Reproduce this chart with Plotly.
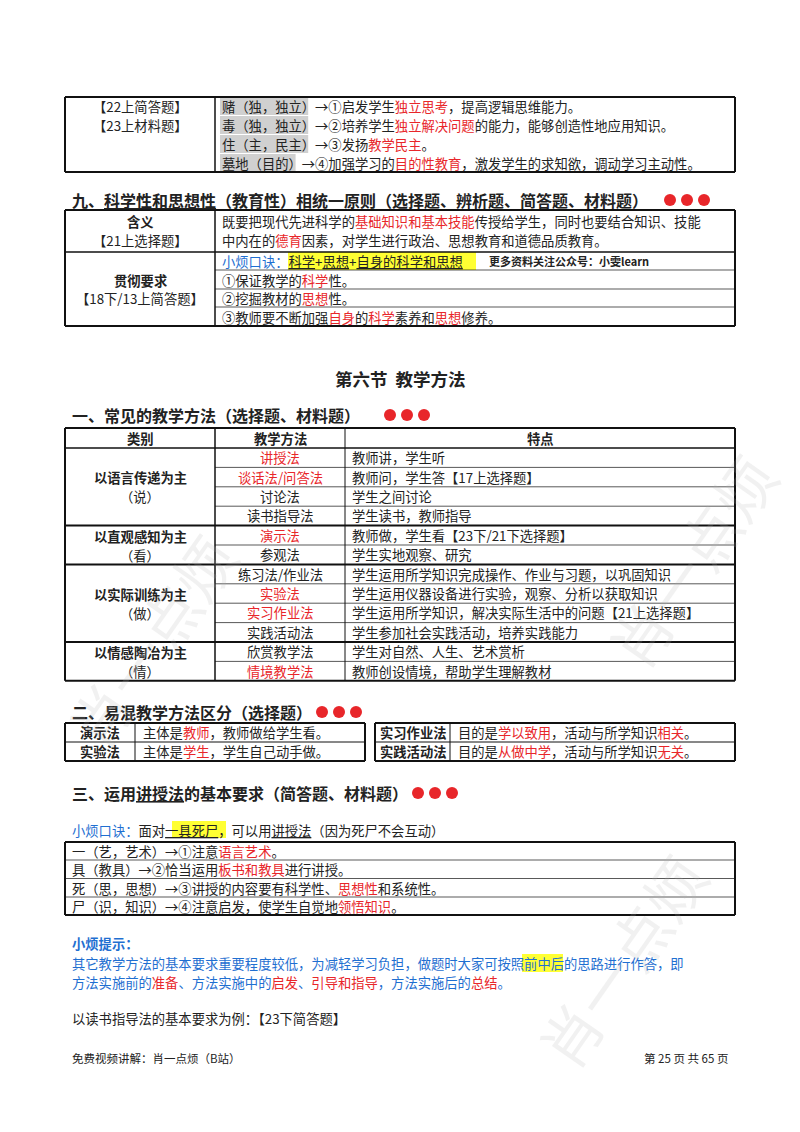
import plotly.graph_objects as go

RED = "#e8262a"
BLUE = "#1f6fd1"
def r(s): return '<span style="color:%s">%s</span>' % (RED, s)

top_left = ["【22上简答题】", "【23上材料题】"]
top_keys = ["赌（独，独立）", "毒（独，独立）", "住（主，民主）", "墓地（目的）"]
top_rest = ["→①启发学生" + r("独立思考") + "，提高逻辑思维能力。",
            "→②培养学生" + r("独立解决问题") + "的能力，能够创造性地应用知识。",
            "→③发扬" + r("教学民主") + "。",
            "→④加强学习的" + r("目的性教育") + "，激发学生的求知欲，调动学习主动性。"]
meaning = ["既要把现代先进科学的" + r("基础知识和基本技能") + "传授给学生，同时也要结合知识、技能",
           "中内在的" + r("德育") + "因素，对学生进行政治、思想教育和道德品质教育。"]
req = ["①保证教学的" + r("科学") + "性。", "②挖掘教材的" + r("思想") + "性。",
       "③教师要不断加强" + r("自身") + "的" + r("科学") + "素养和" + r("思想") + "修养。"]

groups = [("以语言传递为主", "（说）", 4), ("以直观感知为主", "（看）", 2),
          ("以实际训练为主", "（做）", 4), ("以情感陶冶为主", "（情）", 2)]
methods = [r("讲授法"), r("谈话法/问答法"), "讨论法", "读书指导法", r("演示法"), "参观法",
           "练习法/作业法", r("实验法"), r("实习作业法"), "实践活动法", "欣赏教学法", r("情境教学法")]
features = ["教师讲，学生听", "教师问，学生答【17上选择题】", "学生之间讨论", "学生读书，教师指导",
            "教师做，学生看【23下/21下选择题】", "学生实地观察、研究",
            "学生运用所学知识完成操作、作业与习题，以巩固知识", "学生运用仪器设备进行实验，观察、分析以获取知识",
            "学生运用所学知识，解决实际生活中的问题【21上选择题】", "学生参加社会实践活动，培养实践能力",
            "学生对自然、人生、艺术赏析", "教师创设情境，帮助学生理解教材"]
cmp_l = [("演示法", "主体是" + r("教师") + "，教师做给学生看。"), ("实验法", "主体是" + r("学生") + "，学生自己动手做。")]
cmp_r = [("实习作业法", "目的是" + r("学以致用") + "，活动与所学知识" + r("相关") + "。"),
         ("实践活动法", "目的是" + r("从做中学") + "，活动与所学知识" + r("无关") + "。")]
lect = ["一（艺，艺术）→①注意" + r("语言艺术") + "。", "具（教具）→②恰当运用" + r("板书和教具") + "进行讲授。",
        "死（思，思想）→③讲授的内容要有科学性、" + r("思想性") + "和系统性。",
        "尸（识，知识）→④注意启发，使学生自觉地" + r("领悟知识") + "。"]
tip = ["其它教学方法的基本要求重要程度较低，为减轻学习负担，做题时大家可按照前中后的思路进行作答，即",
       "方法实施前的" + r("准备") + "、方法实施中的" + r("启发") + "、" + r("引导和指导") + "，方法实施后的" + r("总结") + "。"]

fig = go.Figure()
shapes, ann = [], []
F = "Noto Sans CJK SC"
FS = 13.3
HS = 16

def T(x, y, s, size=FS, color="#222", anchor="left", bold=False):
    if bold: s = "<b>" + s + "</b>"
    ann.append(dict(x=x, y=y, text=s, showarrow=False, xanchor=anchor, yanchor="middle",
                    font=dict(family=F, size=size, color=color)))
def L(x0, y0, x1, y1, w=1):
    shapes.append(dict(type="line", x0=x0, y0=y0, x1=x1, y1=y1, line=dict(color="#111", width=w)))
def R(x0, y0, x1, y1, fill, w=0):
    shapes.append(dict(type="rect", x0=x0, y0=y0, x1=x1, y1=y1, fillcolor=fill, line=dict(width=w), layer="below"))
def dots(x, y):
    for i in range(3):
        shapes.append(dict(type="circle", x0=x + i*17, y0=y-6, x1=x + i*17 + 12, y1=y+6,
                           fillcolor=RED, line=dict(width=0)))

# table 1
L(65, 97, 735, 97, 2); L(65, 172, 735, 172, 2); L(65, 97, 65, 172, 2); L(735, 97, 735, 172, 2); L(215, 97, 215, 172, 1.5)
for i, s in enumerate(top_left): T(140, 106 + 19*i, s, anchor="center")
for i, k in enumerate(top_keys):
    y = 106 + 19*i
    R(220, y-9, 220 + 12.6*len(k), y+9, "#d0d0d0")
    T(220, y, k + top_rest[i])

# 九
T(70, 200, "九、<u>科学性和思想性</u>（教育性）相统一原则（选择题、辨析题、简答题、材料题）", HS, bold=True)
dots(664, 200)
L(65, 210, 735, 210, 2); L(65, 326, 735, 326, 2); L(65, 210, 65, 326, 2); L(735, 210, 735, 326, 2)
L(215, 210, 215, 326, 1.5); L(65, 252, 735, 252, 1.5)
for y in (270, 289, 307): L(215, y, 735, y, 0.7)
T(140, 221, "含义", bold=True, anchor="center"); T(140, 240, "【21上选择题】", anchor="center")
for i, s in enumerate(meaning): T(220, 221 + 19*i, s)
T(140, 280, "贯彻要求", bold=True, anchor="center"); T(140, 298, "【18下/13上简答题】", anchor="center")
R(288, 252, 476, 270, "#ffff33")
T(220, 261, '<span style="color:%s">小烦口诀：</span><u>科学</u>+<u>思想</u>+<u>自身的科学和思想</u>' % BLUE)
T(487, 261, "更多资料关注公众号：小雯learn", 11, bold=True)
for i, s in enumerate(req): T(220, 280 + 18.5*i, s)

T(400, 378, "第六节  教学方法", 17.5, anchor="center", bold=True)

# 一
T(70, 415, "一、常见的教学方法（选择题、材料题）", HS, bold=True); dots(384, 415)
x0, x1, x2, x3 = 65, 215, 345, 735
top, hdr = 428, 448
L(x0, top, x3, top, 2); L(x0, hdr, x3, hdr, 1.5)
T(140, 438, "类别", bold=True, anchor="center"); T(280, 438, "教学方法", bold=True, anchor="center")
T(540, 438, "特点", bold=True, anchor="center")
rowh = 19.4
y = hdr; k = 0
for g1, g2, n in groups:
    ys = y
    for j in range(n):
        T(280, y + rowh/2, methods[k], anchor="center"); T(350, y + rowh/2, features[k])
        y += rowh; k += 1
        if j < n-1: L(x1, y, x3, y, 0.7)
    L(x0, y, x3, y, 2)
    T(140, (ys+y)/2 - 9, g1, bold=True, anchor="center"); T(140, (ys+y)/2 + 10, g2, anchor="center")
for xx, w in ((x0, 2), (x1, 1.5), (x2, 1), (x3, 2)): L(xx, top, xx, y, w)

# 二
T(70, 712, "二、易混教学方法区分（选择题）", HS, bold=True); dots(316, 712)
for (a, b, c, items) in ((65, 135, 365, cmp_l), (375, 450, 735, cmp_r)):
    L(a, 723, c, 723, 2); L(a, 761, c, 761, 2); L(a, 742, c, 742, 1)
    L(a, 723, a, 761, 2); L(c, 723, c, 761, 2); L(b, 723, b, 761, 1)
    for i, (h, s) in enumerate(items):
        T((a+b)/2, 732 + 19*i, h, bold=True, anchor="center"); T(b + 6, 732 + 19*i, s)

# 三
T(70, 793, "三、运用<u>讲授法</u>的基本要求（简答题、材料题）", HS, bold=True); dots(412, 793)
R(172, 821, 226, 838, "#ffff33")
T(70, 830, '<span style="color:%s">小烦口诀：</span>面对<u>一具死尸</u>，可以用<u>讲授法</u>（因为死尸不会互动）' % BLUE)
L(65, 842, 735, 842, 2); L(65, 915, 735, 915, 2); L(65, 842, 65, 915, 2); L(735, 842, 735, 915, 2)
for i, s in enumerate(lect):
    T(70, 851 + 18.5*i, s)
    if i < 3: L(65, 860 + 18.5*i, 735, 860 + 18.5*i, 0.7)

T(70, 943, "小烦提示：", color=BLUE, bold=True)
R(522, 954, 563, 972, "#ffff33")
for i, s in enumerate(tip): T(70, 963 + 19*i, s, color=BLUE)
T(70, 1018, "以读书指导法的基本要求为例：【23下简答题】")
T(70, 1058, "免费视频讲解：肖一点烦（B站）", 11.5)
T(730, 1058, "第 25 页 共 65 页", 11.5, anchor="right")

# watermark
for (wx, wy, a) in ((150, 640, -55), (620, 960, -55), (690, 560, -55)):
    ann.append(dict(x=wx, y=wy, text="肖一点烦", showarrow=False, textangle=a,
                    font=dict(family=F, size=60, color="rgba(180,180,180,0.18)")))

# page body has an 8px margin, so the axes are offset by 8px
fig.update_layout(width=800, height=1132, margin=dict(l=0, r=0, t=0, b=0),
                  plot_bgcolor="white", paper_bgcolor="white", shapes=shapes, annotations=ann,
                  xaxis=dict(range=[8, 808], visible=False, fixedrange=True),
                  yaxis=dict(range=[1140, 8], visible=False, fixedrange=True), showlegend=False)
fig.write_html("out.html", config={"displayModeBar": False})
